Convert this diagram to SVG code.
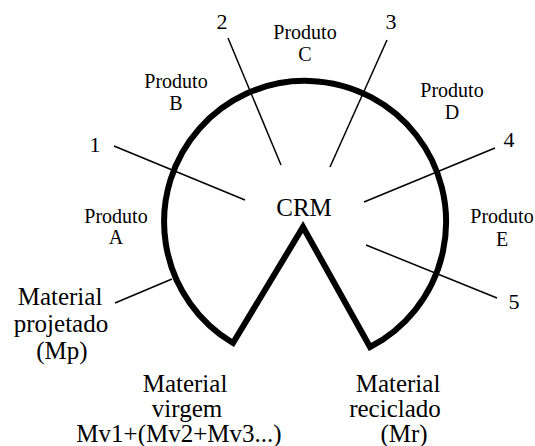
<svg xmlns="http://www.w3.org/2000/svg" width="535" height="446" viewBox="0 0 535 446">
<style>
.t{fill:#000;text-anchor:middle;font-family:"Liberation Serif","Tinos","Times New Roman","DejaVu Serif",serif}
.p{font-size:20px}
.n{font-size:22px}
.m{font-size:25px}
.c{stroke:#000;stroke-width:1.5;fill:none}
</style>
<rect width="535" height="446" fill="#fff"/>
<g id="crm-shape">
<path d="M233,343 L303,227 L370,347 A141,141 0 1 0 233,343 Z" fill="none" stroke="#000" stroke-width="6" stroke-linejoin="miter" stroke-miterlimit="10"/>
</g>
<g id="connectors">
<line class="c" x1="114" y1="146" x2="245" y2="200"/>
<line class="c" x1="228" y1="38" x2="281" y2="165"/>
<line class="c" x1="387" y1="40" x2="330" y2="167"/>
<line class="c" x1="495" y1="148" x2="364" y2="202"/>
<line class="c" x1="366" y1="245" x2="497" y2="298"/>
<line class="c" x1="115" y1="303" x2="172" y2="279"/>
</g>
<g id="crm"><text class="t m" x="304" y="216">CRM</text></g>
<g id="n1"><text class="t n" x="95" y="152">1</text></g>
<g id="n2"><text class="t n" x="222" y="29">2</text></g>
<g id="n3"><text class="t n" x="391" y="29">3</text></g>
<g id="n4"><text class="t n" x="509" y="147">4</text></g>
<g id="n5"><text class="t n" x="514" y="309">5</text></g>
<g id="produto-a"><text class="t p"><tspan x="116" y="223">Produto</tspan><tspan x="116" y="244">A</tspan></text></g>
<g id="produto-b"><text class="t p"><tspan x="176" y="88">Produto</tspan><tspan x="176" y="110">B</tspan></text></g>
<g id="produto-c"><text class="t p"><tspan x="305" y="39">Produto</tspan><tspan x="305" y="61">C</tspan></text></g>
<g id="produto-d"><text class="t p"><tspan x="452" y="97">Produto</tspan><tspan x="452" y="119">D</tspan></text></g>
<g id="produto-e"><text class="t p"><tspan x="502" y="223">Produto</tspan><tspan x="502" y="246">E</tspan></text></g>
<g id="material-projetado"><text class="t m"><tspan x="60" y="305">Material</tspan><tspan x="61" y="332">projetado</tspan><tspan x="62" y="359">(Mp)</tspan></text></g>
<g id="material-virgem"><text class="t m"><tspan x="185" y="392">Material</tspan><tspan x="187" y="417">virgem</tspan><tspan x="179" y="442">Mv1+(Mv2+Mv3...)</tspan></text></g>
<g id="material-reciclado"><text class="t m"><tspan x="398" y="392">Material</tspan><tspan x="395" y="417">reciclado</tspan><tspan x="404" y="442">(Mr)</tspan></text></g>
</svg>
